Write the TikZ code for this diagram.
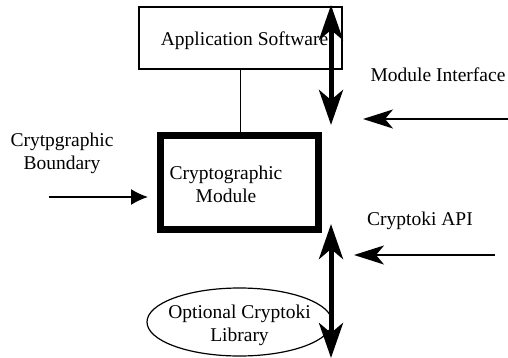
\documentclass[tikz,border=0pt]{standalone}
\usepackage{fontspec}
\setmainfont{Liberation Serif}
\usetikzlibrary{arrows.meta,shapes.geometric}
\tikzset{
  txt/.style={font=\fontsize{19.5}{23}\selectfont, inner sep=0pt, align=center},
  thinbox/.style={draw, line width=1.2pt},
  bigarrow/.style={line width=5pt, {Stealth[length=35pt,width=24pt,inset=10pt]}-{Stealth[length=35pt,width=24pt,inset=10pt]}},
  smallarrow/.style={line width=1.6pt, -{Stealth[length=30pt,width=19pt,inset=8pt]}}
}

\begin{document}
\begin{tikzpicture}[x=1pt,y=-1pt]
			\useasboundingbox (0,0) rectangle (508,358);
			
			% boxes
			\node[thinbox, minimum width=203pt, minimum height=62pt] (app) at (240.5,38) {};
			\node[txt] (apptext) at (244.5,41) {Application Software};
			
			\node[draw, line width=7pt, minimum width=158pt, minimum height=93pt] (module) at (239,182.5) {};
			\node[txt] (modtext) at (226,184) {Cryptographic\\Module};
			
			\node[thinbox, ellipse, minimum width=185pt, minimum height=68pt, inner sep=0pt] (lib) at (239.5,322) {};
			\node[txt] (libtext) at (239.5,325) {Optional Cryptoki\\Library};
			
			\draw[line width=1.2pt] (app.south) -- (app.south |- module.north);
			\draw[line width=1.2pt, shorten >=6pt] (module.south -| app.south) -- (module.south -| app.south |- lib.north);
			
			% interfaces
			\coordinate (ifTop) at (331,5);
			\coordinate (ifBot) at (331,125);
			\coordinate (apiTop) at (331,224);
			\coordinate (apiBot) at (331,358);
			\draw[bigarrow] (ifTop) -- (ifBot);
			\draw[bigarrow] (apiTop) -- (apiBot);
			
			% labels and pointers
			\node[txt] (boundary) at (62,153) {Crytpgraphic\\Boundary};
			\coordinate (bStart) at (49,197);
			\coordinate (bEnd) at (148,197);
			\draw[line width=1.6pt, -{Latex[length=17pt,width=16pt]}] (bStart) -- (bEnd);
			
			\node[txt] (iflabel) at (438,75) {Module Interface};
			\coordinate (ifStart) at (509,119);
			\coordinate (ifEnd) at (363,119);
			\draw[smallarrow] (ifStart) -- (ifEnd);
			
			\node[txt] (apilabel) at (420,221) {Cryptoki API};
			\coordinate (apiStart) at (495,255);
			\coordinate (apiEnd) at (354,255);
			\draw[smallarrow] (apiStart) -- (apiEnd);
		\end{tikzpicture}
\end{document}
